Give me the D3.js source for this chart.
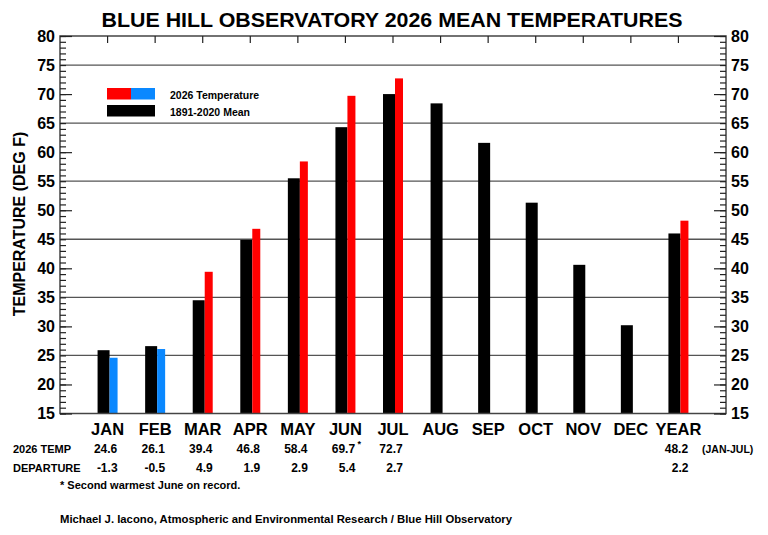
<html>
<head>
  <title>Blue Hill Observatory 2026 Mean Temperatures</title>
  <script src="https://d3js.org/d3.v7.min.js"></script>
  <style>
    body { margin: 0; background: #fff; }
    svg text { font-family: "Liberation Sans", Arial, sans-serif; font-weight: bold; fill: #000; }
  </style>
</head>
<body>
  <svg id="root" width="768" height="535"></svg>
  <script>
    // values
    var months = ['JAN', 'FEB', 'MAR', 'APR', 'MAY', 'JUN', 'JUL', 'AUG', 'SEP', 'OCT', 'NOV', 'DEC', 'YEAR'];
    var normals = [25.9, 26.6, 34.5, 44.9, 55.5, 64.3, 70.0, 68.4, 61.6, 51.3, 40.6, 30.2, 46.0];
    var temps2026 = [24.6, 26.1, 39.4, 46.8, 58.4, 69.7, 72.7, null, null, null, null, null, 48.2];
    var departures = [-1.3, -0.5, 4.9, 1.9, 2.9, 5.4, 2.7, null, null, null, null, null, 2.2];
    var legendLabels = ['2026 Temperature', '1891-2020 Mean'];
    var rowLabels = ['2026 TEMP', 'DEPARTURE'];
    var yTicks = [15, 20, 25, 30, 35, 40, 45, 50, 55, 60, 65, 70, 75, 80];
    var gridValues = [25, 35, 45, 55, 65, 75];

    (function () {
      var svg = d3.select('svg#root');
      var pLeft = 60, pRight = 726, pTop = 36, pBottom = 413.5;

      var x = d3.scaleBand().domain(months).range([pLeft, pRight]).paddingInner(0).paddingOuter(0.5);
      var y = d3.scaleLinear().domain([15, 80]).range([pBottom, pTop]);
      function cx(i) { return x(months[i]) + x.bandwidth() / 2; }

      // 2026 bar is blue when below normal
      function tempColor(d, i) { return d < normals[i] ? '#0a88ff' : '#ff0000'; }

      var tempRows = temps2026.map(function (d, i) { return { v: d, i: i }; })
        .filter(function (d) { return d.v !== null; });
      var depRows = departures.map(function (d, i) { return { v: d, i: i }; })
        .filter(function (d) { return d.v !== null; });

      // gridlines
      svg.append('g').selectAll('line')
        .data(gridValues)
        .enter().append('line')
        .attr('x1', pLeft).attr('x2', pRight)
        .attr('y1', function (d) { return y(d); })
        .attr('y2', function (d) { return y(d); })
        .attr('stroke', '#555')
        .attr('stroke-width', 1.3);

      // bars
      svg.append('g').selectAll('rect')
        .data(normals)
        .enter().append('rect')
        .attr('x', function (d, i) { return cx(i) - 10; })
        .attr('width', 12)
        .attr('y', function (d) { return y(d); })
        .attr('height', function (d) { return pBottom - y(d); })
        .attr('fill', '#000');

      svg.append('g').selectAll('rect')
        .data(tempRows)
        .enter().append('rect')
        .attr('x', function (d) { return cx(d.i) + 2; })
        .attr('width', 8)
        .attr('y', function (d) { return y(d.v); })
        .attr('height', function (d) { return pBottom - y(d.v); })
        .attr('fill', function (d) { return tempColor(d.v, d.i); });

      // frame
      svg.append('rect')
        .attr('x', pLeft).attr('y', pTop)
        .attr('width', pRight - pLeft).attr('height', pBottom - pTop)
        .attr('fill', 'none')
        .attr('stroke', '#444')
        .attr('stroke-width', 1.5);

      // y axes: minor ticks, major ticks, labels
      var minor = d3.range(15, 81);
      var major = yTicks.filter(function (v) { return gridValues.indexOf(v) < 0; });
      function yAxes(axisFn, xPos) {
        var g1 = svg.append('g').attr('transform', 'translate(' + xPos + ',0)')
          .call(axisFn(y).tickValues(minor).tickSize(-6).tickFormat(''));
        var g2 = svg.append('g').attr('transform', 'translate(' + xPos + ',0)')
          .call(axisFn(y).tickValues(major).tickSize(-12).tickFormat(''));
        var g3 = svg.append('g').attr('transform', 'translate(' + xPos + ',0)')
          .call(axisFn(y).tickValues(yTicks).tickSize(0).tickPadding(5));
        [g1, g2, g3].forEach(function (g) {
          g.select('.domain').remove();
          g.selectAll('line').attr('stroke', '#222').attr('stroke-width', 1.2);
        });
        g3.selectAll('text')
          .style('font-family', '"Liberation Sans", Arial, sans-serif')
          .style('font-weight', 'bold')
          .style('font-size', '16px')
          .attr('fill', '#000');
      }
      yAxes(d3.axisLeft, pLeft);
      yAxes(d3.axisRight, pRight);

      // x ticks on top, month labels below
      var xt = svg.append('g').attr('transform', 'translate(0,' + pTop + ')')
        .call(d3.axisTop(x).tickSize(-7).tickFormat(''));
      xt.select('.domain').remove();
      xt.selectAll('line').attr('stroke', '#222').attr('stroke-width', 1.2);

      var xb = svg.append('g').attr('transform', 'translate(0,' + pBottom + ')')
        .call(d3.axisBottom(x).tickSize(0).tickPadding(10));
      xb.select('.domain').remove();
      xb.selectAll('text')
        .style('font-family', '"Liberation Sans", Arial, sans-serif')
        .style('font-weight', 'bold')
        .style('font-size', '16.5px')
        .attr('fill', '#000');

      // titles
      svg.append('text')
        .attr('x', 392).attr('y', 26.5)
        .attr('text-anchor', 'middle')
        .attr('textLength', 581)
        .attr('lengthAdjust', 'spacingAndGlyphs')
        .style('font-size', '20px')
        .text('BLUE HILL OBSERVATORY 2026 MEAN TEMPERATURES');

      svg.append('text')
        .attr('transform', 'translate(24.5,224) rotate(-90)')
        .attr('text-anchor', 'middle')
        .style('font-size', '16px')
        .text('TEMPERATURE (DEG F)');

      // legend
      var legend = svg.append('g');
      legend.append('rect').attr('x', 107).attr('y', 88).attr('width', 24).attr('height', 11.5).attr('fill', '#ff0000');
      legend.append('rect').attr('x', 131).attr('y', 88).attr('width', 24).attr('height', 11.5).attr('fill', '#0a88ff');
      legend.append('rect').attr('x', 107).attr('y', 105).attr('width', 48).attr('height', 11.5).attr('fill', '#000');
      legend.selectAll('text')
        .data(legendLabels)
        .enter().append('text')
        .attr('x', 170)
        .attr('y', function (d, i) { return 99 + i * 17; })
        .style('font-size', '10.5px')
        .text(function (d) { return d; });

      // table under the chart
      svg.selectAll('.rowlabel')
        .data(rowLabels)
        .enter().append('text')
        .attr('class', 'rowlabel')
        .attr('x', 13)
        .attr('y', function (d, i) { return 453 + i * 18.5; })
        .style('font-size', '11px')
        .text(function (d) { return d; });

      svg.selectAll('.tempval')
        .data(tempRows)
        .enter().append('text')
        .attr('class', 'tempval')
        .attr('x', function (d) { return cx(d.i) - 2; })
        .attr('y', 453)
        .attr('text-anchor', 'middle')
        .style('font-size', '12px')
        .text(function (d) { return d.v.toFixed(1); });

      svg.selectAll('.depval')
        .data(depRows)
        .enter().append('text')
        .attr('class', 'depval')
        .attr('x', function (d) { return cx(d.i) + 10; })
        .attr('y', 471.5)
        .attr('text-anchor', 'end')
        .style('font-size', '12px')
        .text(function (d) { return d.v.toFixed(1); });

      svg.append('text')
        .attr('x', cx(5) + 12).attr('y', 447)
        .style('font-size', '9px')
        .text('*');

      svg.append('text')
        .attr('x', 702).attr('y', 453)
        .style('font-size', '10.5px')
        .text('(JAN-JUL)');

      svg.append('text')
        .attr('x', 60).attr('y', 488.5)
        .style('font-size', '11px')
        .text('* Second warmest June on record.');

      svg.append('text')
        .attr('x', 60).attr('y', 522.5)
        .attr('textLength', 452)
        .attr('lengthAdjust', 'spacingAndGlyphs')
        .style('font-size', '10.5px')
        .text('Michael J. Iacono, Atmospheric and Environmental Research / Blue Hill Observatory');
    })();
  </script>
</body>
</html>
